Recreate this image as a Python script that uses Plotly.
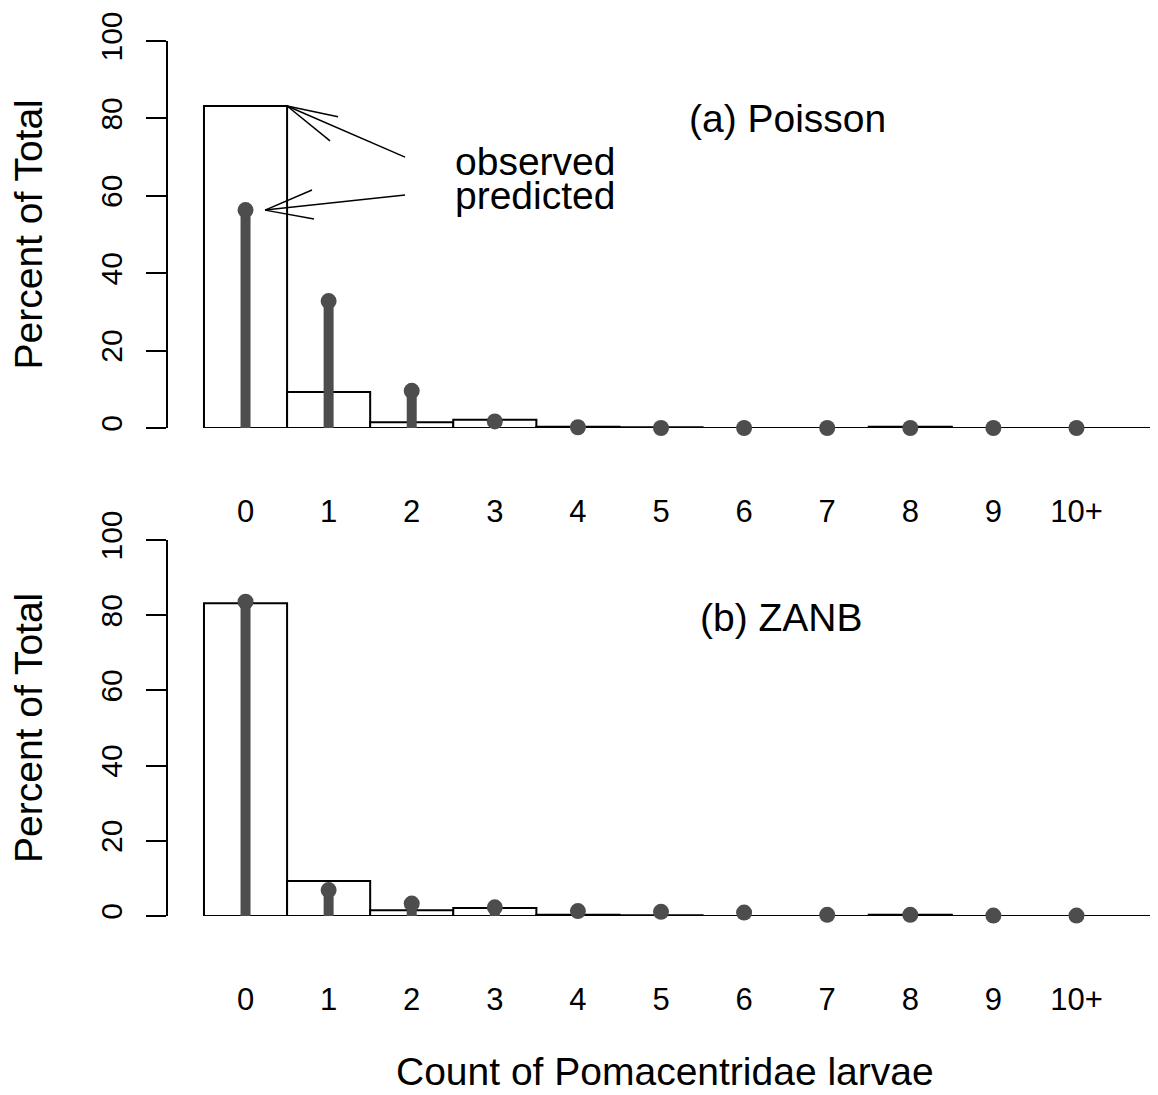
import plotly.graph_objects as go

# ---------------- data ----------------
categories = list(range(12))
tick_labels = ["0", "1", "2", "3", "4", "5", "6", "7", "8", "9", "10+", ""]
observed = [83.2, 9.3, 1.5, 2.1, 0.3, 0.2, 0.0, 0.0, 0.3, 0.0, 0.0, 0.0]
pred_poisson = [56.3, 32.8, 9.6, 1.7, 0.2, 0.0, 0.0, 0.0, 0.0, 0.0, 0.0, 0.0]
pred_zanb = [83.6, 6.9, 3.3, 2.3, 1.3, 1.1, 0.9, 0.3, 0.3, 0.1, 0.1, 0.0]
y_ticks = [0, 20, 40, 60, 80, 100]

STEM = "#4d4d4d"
FONT = "Liberation Sans, Arial, sans-serif"

# page geometry (the page body has an 8px default margin on every side)
OFF = 8
W, H = 1158 - OFF, 1095 - 2 * OFF
ML = 168 - OFF
PW = W - ML


def px_x(p):
    return (p - OFF - ML) / PW


def px_y(p):
    return 1 - (p - OFF) / H


fig = go.Figure()


def add_panel(pred, xa, ya):
    fig.add_trace(go.Bar(x=categories, y=observed, width=1.0,
                         marker=dict(color="white", line=dict(color="black", width=2)),
                         xaxis=xa, yaxis=ya, showlegend=False, cliponaxis=False))
    # baseline of the (possibly zero-height) bars
    fig.add_trace(go.Scatter(x=[categories[0] - 0.5, categories[-1] + 0.5], y=[0, 0],
                             mode="lines", line=dict(color="black", width=2),
                             xaxis=xa, yaxis=ya, showlegend=False, cliponaxis=False))
    sx, sy = [], []
    for c, v in zip(categories, pred):
        sx += [c, c, None]
        sy += [0, v, None]
    fig.add_trace(go.Scatter(x=sx, y=sy, mode="lines",
                             line=dict(color=STEM, width=10),
                             xaxis=xa, yaxis=ya, showlegend=False, cliponaxis=False))
    fig.add_trace(go.Scatter(x=categories, y=pred, mode="markers",
                             marker=dict(color=STEM, size=16),
                             xaxis=xa, yaxis=ya, showlegend=False, cliponaxis=False))


add_panel(pred_poisson, "x", "y")
add_panel(pred_zanb, "x2", "y2")

xrange = [-0.933, 10.981]

axis_x = dict(range=xrange, domain=[0, 1], showgrid=False, zeroline=False, showline=False,
              automargin=False,
              tickmode="array", tickvals=categories, ticktext=tick_labels,
              ticks="outside", ticklen=56, tickcolor="rgba(0,0,0,0)",
              tickfont=dict(family=FONT, size=31, color="black"))
axis_y = dict(range=[0, 100], showgrid=False, zeroline=False, showline=True,
              automargin=False,
              linecolor="black", linewidth=2, ticks="outside", ticklen=20, tickwidth=2,
              tickcolor="black", tickmode="array", tickvals=y_ticks, tickangle=-90,
              ticklabelstandoff=12,
              tickfont=dict(family=FONT, size=30, color="black"))

top_dom = [px_y(428), px_y(41)]
bot_dom = [px_y(916), px_y(540)]

fig.update_layout(
    width=W, height=H,
    margin=dict(l=ML, r=0, t=0, b=0, autoexpand=False),
    plot_bgcolor="white", paper_bgcolor="white",
    xaxis=dict(axis_x, anchor="y"),
    yaxis=dict(axis_y, domain=top_dom, anchor="x"),
    xaxis2=dict(axis_x, anchor="y2"),
    yaxis2=dict(axis_y, domain=bot_dom, anchor="x2"),
    barmode="overlay",
)

tfont = dict(family=FONT, size=39, color="black")
ann = []
ann.append(dict(text="(a) Poisson", x=6.52, y=80, xref="x", yref="y", xanchor="center",
                yanchor="middle", showarrow=False, font=tfont))
ann.append(dict(text="(b) ZANB", x=6.45, y=79.5, xref="x2", yref="y2", xanchor="center",
                yanchor="middle", showarrow=False, font=tfont))
ann.append(dict(text="observed", x=2.5, y=68.8, xref="x", yref="y", xanchor="left",
                yanchor="middle", showarrow=False, font=tfont))
ann.append(dict(text="predicted", x=2.5, y=60.0, xref="x", yref="y", xanchor="left",
                yanchor="middle", showarrow=False, font=tfont))
for dom in (top_dom, bot_dom):
    ann.append(dict(text="Percent of Total", textangle=-90, x=px_x(28),
                    y=(dom[0] + dom[1]) / 2, xref="paper", yref="paper",
                    xanchor="center", yanchor="middle", showarrow=False, font=tfont))
ann.append(dict(text="Count of Pomacentridae larvae", x=px_x(665), y=px_y(1071),
                xref="paper", yref="paper", xanchor="center", yanchor="middle",
                showarrow=False, font=tfont))
fig.update_layout(annotations=ann)

# pointer arrows (open heads), in data coordinates of the top panel
arrows = [
    dict(tail=(1.92, 70.0), tip=(0.5, 83.2), heads=[(1.113, 80.4), (1.017, 74.2)]),
    dict(tail=(1.92, 60.2), tip=(0.235, 56.3), heads=[(0.80, 61.5), (0.824, 54.0)]),
]
shapes = []
for a in arrows:
    tx, ty = a["tip"]
    shapes.append(dict(type="line", xref="x", yref="y", x0=a["tail"][0], y0=a["tail"][1],
                       x1=tx, y1=ty, line=dict(color="black", width=1.5)))
    for hx, hy in a["heads"]:
        shapes.append(dict(type="line", xref="x", yref="y", x0=tx, y0=ty, x1=hx, y1=hy,
                           line=dict(color="black", width=1.5)))
fig.update_layout(shapes=shapes)

fig.write_html("out.html")
